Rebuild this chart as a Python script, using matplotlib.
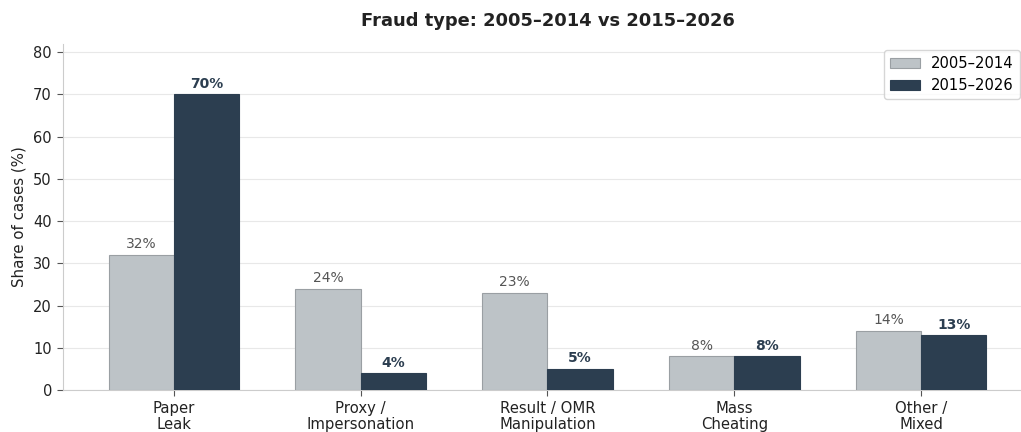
import matplotlib
matplotlib.use("Agg")
import matplotlib.pyplot as plt
import numpy as np

categories = ["Paper\nLeak", "Proxy /\nImpersonation", "Result / OMR\nManipulation", "Mass\nCheating", "Other /\nMixed"]
series_labels = ["2005\u20132014", "2015\u20132026"]
early = [32, 24, 23, 8, 14]
late = [70, 4, 5, 8, 13]

C_EARLY = "#bdc3c7"
C_LATE = "#2c3e50"

fig = plt.figure(figsize=(10.21, 4.32), dpi=100)
ax = fig.add_axes([63/1021, 1 - 390/432, (1021 - 63)/1021, (390 - 44)/432])

x = np.arange(len(categories))
w = 0.35
b1 = ax.bar(x - w/2, early, w, color=C_EARLY, edgecolor="#9a9fa3", linewidth=0.8, label=series_labels[0], zorder=3)
b2 = ax.bar(x + w/2, late, w, color=C_LATE, edgecolor=C_LATE, linewidth=0.8, label=series_labels[1], zorder=3)

for rect, v in zip(b1, early):
    ax.text(rect.get_x() + rect.get_width()/2, v + 0.8, f"{v}%", ha="center", va="bottom",
            fontsize=10, color="#555555")
for rect, v in zip(b2, late):
    ax.text(rect.get_x() + rect.get_width()/2, v + 0.8, f"{v}%", ha="center", va="bottom",
            fontsize=10, color=C_LATE, fontweight="bold")

ax.set_xlim(-(174 - 63)/187, 4 + (1021 - 921)/187)
ax.set_ylim(0, 81.9)
ax.set_yticks(range(0, 81, 10))
ax.set_xticks(x)
ax.set_xticklabels(categories, fontsize=10.7, color="#222222", linespacing=1.05)
ax.tick_params(axis="y", labelsize=10.5, colors="#222222")
ax.tick_params(axis="both", color="#555555", length=4.5)
ax.set_ylabel("Share of cases (%)", fontsize=10.8, color="#222222")
ax.yaxis.set_label_coords(-0.038, 0.5)

ax.grid(axis="y", color="#e8e8e8", linewidth=0.8, zorder=0)
ax.set_axisbelow(True)
for s in ["top", "right"]:
    ax.spines[s].set_visible(False)
for s in ["left", "bottom"]:
    ax.spines[s].set_color("#cccccc")

fig.suptitle("Fraud type: 2005\u20132014 vs 2015\u20132026", fontsize=12.9, fontweight="bold",
             color="#222222", x=548/1021, y=1 - 12/432, va="top")

leg = fig.legend(loc="upper right", bbox_to_anchor=(1020/1021, 1 - 50/432), fontsize=10.6,
                 frameon=True, borderaxespad=0, fancybox=True)
leg.get_frame().set_edgecolor("#cccccc")

fig.savefig("out.png", dpi=100)
